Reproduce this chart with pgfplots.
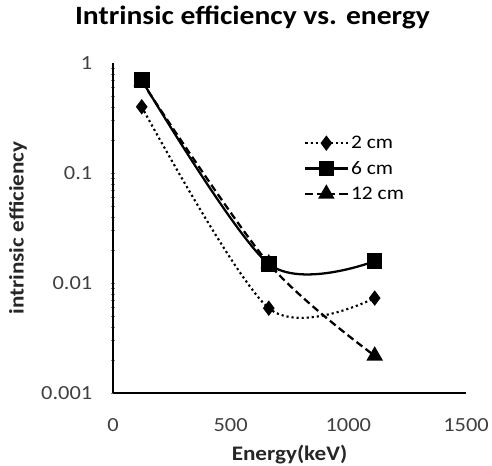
\documentclass[border=0pt]{standalone}
\usepackage{fontspec}
\setmainfont[FakeStretch=1.12]{Carlito}
\usepackage{pgfplots}
\pgfplotsset{compat=1.18}

\begin{document}
\begin{tikzpicture}
\useasboundingbox (-84.75pt,-54pt) rectangle (284.25pt,294.75pt);
\begin{axis}[
  scale only axis, width=264.75pt, height=247.5pt,
  ymode=log, xmin=0, xmax=1500, ymin=0.001, ymax=1,
  xtick={0,500,1000,1500}, ytick={0.001,0.01,0.1,1},
  yticklabels={0.001,0.01,0.1,1},
  minor ytick={}, major tick length=0pt,
  axis lines=left, axis line style={-, line width=1.5pt},
  tick label style={font=\fontsize{15}{17}\selectfont, text=black!75},
  xticklabel style={anchor=center, yshift=-24pt},
  yticklabel style={anchor=east, xshift=-12pt},
  /pgf/number format/assume math mode=true,
  /pgf/number format/1000 sep={},
  scaled x ticks=false,
  xlabel={Energy(keV)}, ylabel={intrinsic efficiency},
  label style={font=\bfseries\fontsize{15.5}{17}\selectfont, text=black!85},
  xlabel style={at={(axis description cs:0.5,0)}, yshift=-46.5pt, anchor=center},
  ylabel style={at={(axis description cs:-0.269,0.5)}, anchor=center},
  title={Intrinsic efficiency vs. energy},
  title style={at={(axis description cs:0.395,1.115)}, anchor=center,
    font=\bfseries\fontsize{19.8}{23}\selectfont},
  legend style={draw=none, fill=none, at={(axis description cs:0.53,0.796)},
    anchor=north west, font=\fontsize{14.4}{17}\selectfont, row sep=4pt},
  legend cell align=left,
  legend image code/.code={\draw[mark repeat=2, mark phase=2]
    plot coordinates {(0cm,0cm) (0.55cm,0cm) (1.1cm,0cm)};},
]
\addplot[black, line width=1.6pt, dash pattern=on 1.6pt off 2.2pt, smooth,
  mark=diamond*, mark size=4.5pt, mark options={solid}]
  coordinates {(122,0.40) (662,0.0059) (1112,0.0073)};
\addlegendentry{2 cm}
\addplot[black, line width=1.7pt, smooth,
  mark=square*, mark size=5pt, mark options={solid}]
  coordinates {(122,0.70) (662,0.0149) (1112,0.0158)};
\addlegendentry{6 cm}
\addplot[black, line width=1.7pt, dash pattern=on 5.5pt off 3pt, smooth,
  mark=triangle*, mark size=5.5pt, mark options={solid}]
  coordinates {(122,0.68) (662,0.0150) (1112,0.00218)};
\addlegendentry{12 cm}
\end{axis}
\end{tikzpicture}
\end{document}
